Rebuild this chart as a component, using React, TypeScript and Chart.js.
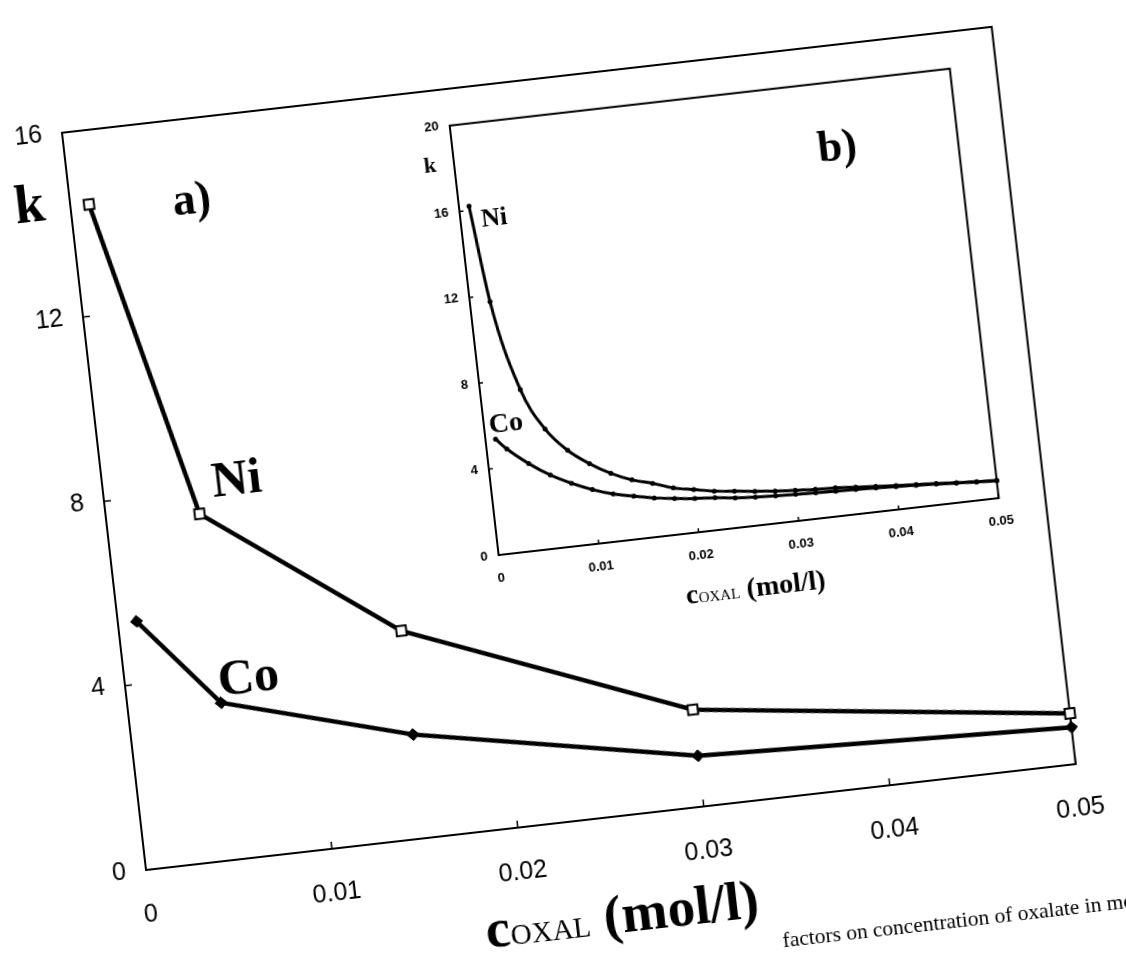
import React, { useEffect, useRef } from "react";
import { Chart, registerables } from "chart.js";

Chart.register(...registerables);

// ---------- panel a) (main) ----------
const mainConc = [0.001, 0.005, 0.015, 0.03, 0.05];
const mainNi = [14.4, 7.5, 4.5, 2.1, 1.1];
const mainCo = [5.35, 3.4, 2.25, 1.1, 0.8];
const mainXTicks = [0, 0.01, 0.02, 0.03, 0.04, 0.05];
const mainYTicks = [0, 4, 8, 12, 16];

// ---------- panel b) (inset) ----------
const insetConc = [
  0.001, 0.002, 0.004, 0.006, 0.008, 0.01, 0.012, 0.014, 0.016, 0.018, 0.02, 0.022, 0.024,
  0.026, 0.028, 0.03, 0.032, 0.034, 0.036, 0.038, 0.04, 0.042, 0.044, 0.046, 0.048, 0.05,
];
const insetNi = [
  16.2, 11.7, 7.5, 5.55, 4.45, 3.73, 3.17, 2.76, 2.49, 2.17, 1.99, 1.81, 1.7,
  1.59, 1.49, 1.42, 1.36, 1.33, 1.25, 1.18, 1.11, 1.05, 1.0, 0.93, 0.87, 0.82,
];
const insetCo = [
  5.35, 4.84, 4.05, 3.41, 2.92, 2.52, 2.21, 2.0, 1.81, 1.68, 1.57, 1.5, 1.39,
  1.32, 1.27, 1.24, 1.2, 1.17, 1.14, 1.11, 1.07, 1.02, 0.97, 0.91, 0.86, 0.81,
];
const insetXTicks = [0, 0.01, 0.02, 0.03, 0.04, 0.05];
const insetYTicks = [0, 4, 8, 12, 16, 20];

const SERIF = "'Liberation Serif', 'Times New Roman', serif";
const SANS = "'Liberation Sans', Arial, sans-serif";

type Note = { text: string; x: number; y: number; font: string };
type Seg = { text: string; font: string };

function decorPlugin(cfg: {
  notes: Note[];
  title: Seg[];
  titleOffset: number;
  tickLen: number;
  frameWidth: number;
  xTicks: number[];
  yTicks: number[];
}) {
  return {
    id: "decor",
    beforeDatasetsDraw(chart: any) {
      const { ctx, chartArea: a, scales } = chart;
      ctx.save();
      ctx.strokeStyle = "#000";
      ctx.lineWidth = cfg.frameWidth;
      ctx.strokeRect(a.left, a.top, a.right - a.left, a.bottom - a.top);
      ctx.beginPath();
      for (const v of cfg.xTicks) {
        const px = scales.x.getPixelForValue(v);
        ctx.moveTo(px, a.bottom);
        ctx.lineTo(px, a.bottom - cfg.tickLen);
      }
      for (const v of cfg.yTicks) {
        const py = scales.y.getPixelForValue(v);
        ctx.moveTo(a.left, py);
        ctx.lineTo(a.left + cfg.tickLen, py);
      }
      ctx.lineWidth = 1.5;
      ctx.stroke();
      ctx.restore();
    },
    afterDraw(chart: any) {
      const { ctx, chartArea: a, scales } = chart;
      ctx.save();
      ctx.fillStyle = "#000";
      ctx.textAlign = "center";
      ctx.textBaseline = "middle";
      for (const n of cfg.notes) {
        ctx.font = n.font;
        ctx.fillText(n.text, scales.x.getPixelForValue(n.x), scales.y.getPixelForValue(n.y));
      }
      // axis title made of several font runs, centred under the axis
      ctx.textAlign = "left";
      ctx.textBaseline = "alphabetic";
      let total = 0;
      const widths = cfg.title.map((s) => {
        ctx.font = s.font;
        const w = ctx.measureText(s.text).width;
        total += w;
        return w;
      });
      let x = (a.left + a.right) / 2 - total / 2;
      const y = a.bottom + cfg.titleOffset;
      cfg.title.forEach((s, i) => {
        ctx.font = s.font;
        ctx.fillText(s.text, x, y);
        x += widths[i];
      });
      ctx.restore();
    },
  };
}

function makeScales(o: {
  xMax: number;
  yMax: number;
  xTicks: number[];
  yTicks: number[];
  font: any;
  xPad: number;
  yPad: number;
  xHeight: number;
  yWidth: number;
}) {
  return {
    x: {
      type: "linear",
      min: 0,
      max: o.xMax,
      grid: { display: false, drawTicks: false },
      border: { display: false },
      ticks: {
        padding: o.xPad,
        font: o.font,
        color: "#000",
        autoSkip: false,
        maxRotation: 0,
        callback: (v: number) => String(v),
      },
      afterBuildTicks: (s: any) => {
        s.ticks = o.xTicks.map((v) => ({ value: v }));
      },
      afterFit: (s: any) => {
        s.height = o.xHeight;
      },
    },
    y: {
      type: "linear",
      min: 0,
      max: o.yMax,
      grid: { display: false, drawTicks: false },
      border: { display: false },
      ticks: {
        padding: o.yPad,
        font: o.font,
        color: "#000",
        autoSkip: false,
        callback: (v: number) => String(v),
      },
      afterBuildTicks: (s: any) => {
        s.ticks = o.yTicks.map((v) => ({ value: v }));
      },
      afterFit: (s: any) => {
        s.width = o.yWidth;
      },
    },
  };
}

export default function App() {
  const mainRef = useRef<HTMLCanvasElement>(null);
  const insetRef = useRef<HTMLCanvasElement>(null);

  useEffect(() => {
    const main = new Chart(mainRef.current as HTMLCanvasElement, {
      type: "line",
      data: {
        datasets: [
          {
            label: "Ni",
            data: mainConc.map((x, i) => ({ x, y: mainNi[i] })),
            borderColor: "#000",
            borderWidth: 4.5,
            pointStyle: "rect",
            pointRadius: 7,
            pointBackgroundColor: "#fff",
            pointBorderColor: "#000",
            pointBorderWidth: 2,
            tension: 0,
            clip: false,
          },
          {
            label: "Co",
            data: mainConc.map((x, i) => ({ x, y: mainCo[i] })),
            borderColor: "#000",
            borderWidth: 4.5,
            pointStyle: "rectRot",
            pointRadius: 6,
            pointBackgroundColor: "#000",
            pointBorderColor: "#000",
            pointBorderWidth: 1,
            tension: 0,
            clip: false,
          },
        ],
      },
      options: {
        responsive: false,
        animation: false,
        events: [],
        layout: { padding: { left: 0, top: 20, right: 40, bottom: 0 } },
        plugins: { legend: { display: false }, tooltip: { enabled: false } },
        scales: makeScales({
          xMax: 0.05,
          yMax: 16,
          xTicks: mainXTicks,
          yTicks: mainYTicks,
          font: { family: SANS, size: 25 },
          xPad: 30,
          yPad: 20,
          xHeight: 170,
          yWidth: 80,
        }) as any,
      },
      plugins: [
        decorPlugin({
          notes: [
            { text: "k", x: -0.00216, y: 14.46, font: `bold 54px ${SERIF}` },
            { text: "a)", x: 0.00647, y: 14.2, font: `bold 46px ${SERIF}` },
            { text: "Ni", x: 0.00717, y: 8.1, font: `bold 50px ${SERIF}` },
            { text: "Co", x: 0.0066, y: 3.83, font: `bold 50px ${SERIF}` },
          ],
          title: [
            { text: "c", font: `bold 55px ${SERIF}` },
            { text: "OXAL", font: `29px ${SERIF}` },
            { text: " (mol/l)", font: `bold 55px ${SERIF}` },
          ],
          titleOffset: 116,
          tickLen: 7,
          frameWidth: 2,
          xTicks: mainXTicks,
          yTicks: mainYTicks,
        }),
      ],
    } as any);

    const inset = new Chart(insetRef.current as HTMLCanvasElement, {
      type: "line",
      data: {
        datasets: [
          {
            label: "Ni",
            data: insetConc.map((x, i) => ({ x, y: insetNi[i] })),
            borderColor: "#000",
            borderWidth: 3,
            pointStyle: "circle",
            pointRadius: 2.5,
            pointBackgroundColor: "#000",
            pointBorderWidth: 0,
            cubicInterpolationMode: "monotone",
            clip: false,
          },
          {
            label: "Co",
            data: insetConc.map((x, i) => ({ x, y: insetCo[i] })),
            borderColor: "#000",
            borderWidth: 3,
            pointStyle: "circle",
            pointRadius: 2.5,
            pointBackgroundColor: "#000",
            pointBorderWidth: 0,
            cubicInterpolationMode: "monotone",
            clip: false,
          },
        ],
      },
      options: {
        responsive: false,
        animation: false,
        events: [],
        layout: { padding: { left: 0, top: 10, right: 20, bottom: 0 } },
        plugins: { legend: { display: false }, tooltip: { enabled: false } },
        scales: makeScales({
          xMax: 0.05,
          yMax: 20,
          xTicks: insetXTicks,
          yTicks: insetYTicks,
          font: { family: SANS, size: 13, weight: "bold" },
          xPad: 16,
          yPad: 11,
          xHeight: 85,
          yWidth: 40,
        }) as any,
      },
      plugins: [
        decorPlugin({
          notes: [
            { text: "k", x: -0.0024, y: 18.2, font: `bold 22px ${SERIF}` },
            { text: "b)", x: 0.038, y: 16.9, font: `bold 44px ${SERIF}` },
            { text: "Ni", x: 0.00335, y: 15.5, font: `bold 26px ${SERIF}` },
            { text: "Co", x: 0.0022, y: 6.0, font: `bold 28px ${SERIF}` },
          ],
          title: [
            { text: "c", font: `bold 28px ${SERIF}` },
            { text: "OXAL", font: `15px ${SERIF}` },
            { text: " (mol/l)", font: `bold 28px ${SERIF}` },
          ],
          titleOffset: 70,
          tickLen: 4,
          frameWidth: 2,
          xTicks: insetXTicks,
          yTicks: insetYTicks,
        }),
      ],
    } as any);

    return () => {
      main.destroy();
      inset.destroy();
    };
  }, []);

  return (
    <div
      style={{
        position: "absolute",
        left: 0,
        top: 0,
        width: 1126,
        height: 976,
        overflow: "hidden",
        background: "#fff",
      }}
    >
      <div
        style={{
          position: "absolute",
          left: 66,
          top: 93,
          width: 1070,
          height: 947,
          transformOrigin: "80px 777px",
          transform: "rotate(-6.5deg)",
        }}
      >
        <canvas
          ref={mainRef}
          width={1070}
          height={947}
          style={{ position: "absolute", left: 0, top: 0, width: 1070, height: 947 }}
        />
        <canvas
          ref={insetRef}
          width={572}
          height={536}
          style={{ position: "absolute", left: 425.5, top: 53, width: 572, height: 536 }}
        />
        <div
          style={{
            position: "absolute",
            left: 0,
            top: 907,
            width: 1058,
            textAlign: "right",
            whiteSpace: "nowrap",
            font: `21.5px ${SERIF}`,
            lineHeight: "24px",
            color: "#000",
          }}
        >
          factors on concentration of oxalate in mo
        </div>
      </div>
    </div>
  );
}
